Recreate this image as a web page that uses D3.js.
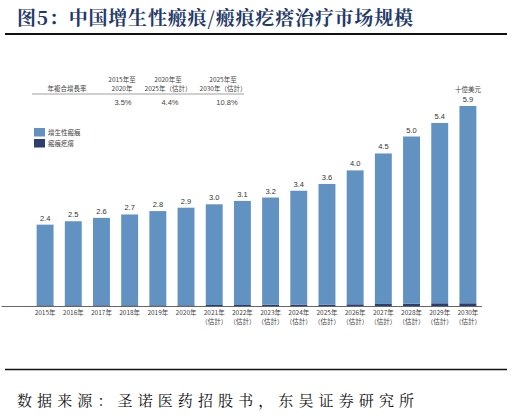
<!DOCTYPE html>
<html>
<head>
<meta charset="utf-8">
<script src="https://cdn.jsdelivr.net/npm/d3@7"></script>
<style>
  body { margin: 0; background: #fff; }
  svg { display: block; }
</style>
</head>
<body>
<div id="chart"></div>
<script>
const years = ["2015年", "2016年", "2017年", "2018年", "2019年", "2020年", "2021年", "2022年",
  "2023年", "2024年", "2025年", "2026年", "2027年", "2028年", "2029年", "2030年"];
const estimated = [false, false, false, false, false, false, true, true,
  true, true, true, true, true, true, true, true];
const hypertrophic = [2.38, 2.48, 2.58, 2.68, 2.78, 2.88, 2.97, 3.07, 3.16, 3.36, 3.56, 3.95, 4.44, 4.93, 5.32, 5.82];
const keloid = [0.02, 0.02, 0.02, 0.02, 0.02, 0.02, 0.03, 0.03, 0.04, 0.04, 0.04, 0.05, 0.06, 0.07, 0.08, 0.08];
const totalLabels = ["2.4", "2.5", "2.6", "2.7", "2.8", "2.9", "3.0", "3.1", "3.2", "3.4", "3.6", "4.0", "4.5", "5.0", "5.4", "5.9"];
const seriesNames = ["增生性瘢痕", "瘢痕疙瘩"];
const cagrHeader = "年複合增長率";
const cagrPeriods = [["2015年至", "2020年"], ["2020年至", "2025年（估計）"], ["2025年至", "2030年（估計）"]];
const cagrValues = ["3.5%", "4.4%", "10.8%"];
const unitLabel = "十億美元";
const title = "图5：中国增生性瘢痕/瘢痕疙瘩治疗市场规模";
const source = "数据来源：圣诺医药招股书，东吴证券研究所";

const width = 512;
const height = 417;
const colors = { hyper: "#6192c2", keloid: "#2d3d6e", text: "#444", title: "#1f3a6a" };
const smallFont = "'Noto Sans CJK TC', 'Noto Sans', sans-serif";

const svg = d3.select("#chart").append("svg")
  .attr("width", width)
  .attr("height", height);

// title and rules
svg.append("text")
  .attr("x", 17).attr("y", 25)
  .attr("font-family", "'Noto Serif CJK SC', 'Noto Sans CJK SC', serif")
  .attr("font-size", 19)
  .attr("font-weight", "bold")
  .attr("fill", colors.title)
  .attr("textLength", 396)
  .attr("lengthAdjust", "spacing")
  .text(title);

svg.append("line").attr("x1", 5).attr("x2", 507).attr("y1", 34).attr("y2", 34)
  .attr("stroke", "#111").attr("stroke-width", 2.2);
svg.append("line").attr("x1", 5).attr("x2", 507).attr("y1", 369.5).attr("y2", 369.5)
  .attr("stroke", "#111").attr("stroke-width", 1.6);

svg.append("text")
  .attr("x", 17).attr("y", 406)
  .attr("font-family", "'Noto Serif CJK SC', 'Noto Sans CJK SC', serif")
  .attr("font-size", 15)
  .attr("fill", "#111")
  .attr("textLength", 397)
  .attr("lengthAdjust", "spacing")
  .text(source);

// scales
const x = d3.scaleBand()
  .domain(years)
  .range([31, 482])
  .paddingInner(0.4)
  .paddingOuter(0.2);

const y = d3.scaleLinear()
  .domain([0, 5.9])
  .range([306, 106]);

const data = years.map((yr, i) => ({ year: yr, hyper: hypertrophic[i], keloid: keloid[i], label: totalLabels[i], est: estimated[i] }));
const stacked = d3.stack().keys(["keloid", "hyper"])(data);

svg.append("g")
  .selectAll("g")
  .data(stacked)
  .join("g")
  .attr("fill", (d) => (d.key === "hyper" ? colors.hyper : colors.keloid))
  .selectAll("rect")
  .data((d) => d)
  .join("rect")
  .attr("x", (d) => x(d.data.year))
  .attr("width", x.bandwidth())
  .attr("y", (d) => y(d[1]))
  .attr("height", (d) => y(d[0]) - y(d[1]));

// value labels
svg.append("g")
  .selectAll("text")
  .data(data)
  .join("text")
  .attr("x", (d) => x(d.year) + x.bandwidth() / 2)
  .attr("y", (d) => y(d.hyper + d.keloid) - 4)
  .attr("text-anchor", "middle")
  .attr("font-family", "'Liberation Sans', Arial, sans-serif")
  .attr("font-size", 7.5)
  .attr("fill", "#333")
  .text((d) => d.label);

// x axis
const xAxis = d3.axisBottom(x).tickSize(0).tickPadding(4);
const gx = svg.append("g")
  .attr("transform", `translate(0, ${y(0)})`)
  .call(xAxis);
gx.select(".domain").attr("stroke", "#666").attr("d", "M1.5,0.5H482");
gx.selectAll(".tick text").remove();
gx.selectAll(".tick").each(function (yr, i) {
  const t = d3.select(this).append("text")
    .attr("fill", colors.text)
    .attr("font-family", smallFont)
    .attr("font-size", 6.5)
    .attr("text-anchor", "middle");
  t.append("tspan").attr("x", 0).attr("y", 9).text(yr);
  if (estimated[i]) {
    t.append("tspan").attr("x", 0).attr("y", 18).text("（估計）");
  }
});

// legend
const legend = svg.append("g");
seriesNames.forEach((name, i) => {
  legend.append("rect")
    .attr("x", 34).attr("y", 128 + i * 11)
    .attr("width", 11).attr("height", 8.5)
    .attr("fill", i === 0 ? colors.hyper : colors.keloid);
  legend.append("text")
    .attr("x", 48).attr("y", 135 + i * 11)
    .attr("font-family", smallFont)
    .attr("font-size", 6.5)
    .attr("fill", colors.text)
    .text(name);
});

// CAGR table
const table = svg.append("g")
  .attr("font-family", smallFont)
  .attr("font-size", 6.5)
  .attr("fill", colors.text)
  .attr("text-anchor", "middle");
const colX = [122, 168, 223];
const valX = [123, 170, 227];
table.append("text").attr("x", 67).attr("y", 91).text(cagrHeader);
cagrPeriods.forEach((p, i) => {
  table.append("text").attr("x", colX[i]).attr("y", 82).text(p[0]);
  table.append("text").attr("x", colX[i]).attr("y", 91).text(p[1]);
  table.append("text").attr("x", valX[i]).attr("y", 105)
    .attr("font-family", "'Liberation Sans', Arial, sans-serif")
    .attr("font-size", 7.5)
    .text(cagrValues[i]);
});
table.append("line").attr("x1", 32).attr("x2", 244).attr("y1", 94).attr("y2", 94)
  .attr("stroke", "#888").attr("stroke-width", 0.8);

// unit
svg.append("text")
  .attr("x", x(years[years.length - 1]) + x.bandwidth() / 2)
  .attr("y", 92)
  .attr("text-anchor", "middle")
  .attr("font-family", smallFont)
  .attr("font-size", 6.5)
  .attr("fill", colors.text)
  .text(unitLabel);
</script>
</body>
</html>
